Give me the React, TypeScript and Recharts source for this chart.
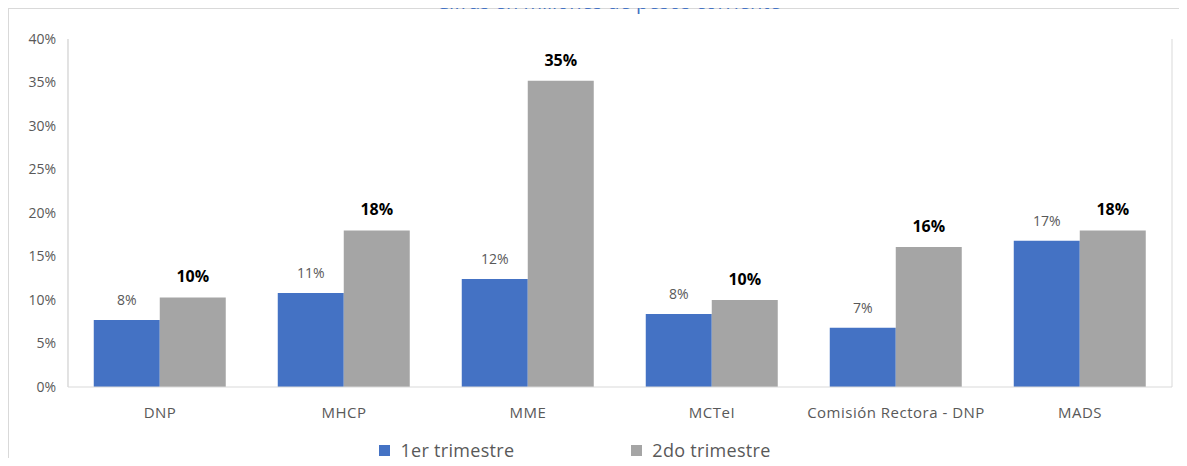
import React from "react";
import { BarChart, Bar, XAxis, YAxis, CartesianGrid, LabelList, Legend } from "recharts";

const categories = ["DNP", "MHCP", "MME", "MCTeI", "Comisión Rectora - DNP", "MADS"];
const trimestre1 = [0.077, 0.108, 0.124, 0.084, 0.068, 0.168];
const trimestre2 = [0.103, 0.18, 0.352, 0.1, 0.161, 0.18];
const yTicks = [0, 0.05, 0.1, 0.15, 0.2, 0.25, 0.3, 0.35, 0.4];
const seriesNames = ["1er trimestre", "2do trimestre"];
const title = "Cifras en millones de pesos corriente";

const data = categories.map((c, i) => ({ name: c, idx: i + 0.5, t1: trimestre1[i], t2: trimestre2[i] }));
const gridTicks = categories.map((_, i) => i).concat([categories.length]);

const FONT = "'Open Sans', sans-serif";
const pct = (v: any) => `${Math.round(Number(v) * 100)}%`;

const LegendContent = () => (
  <div style={{ display: "flex", justifyContent: "center", alignItems: "center", height: 24, lineHeight: "24px", fontFamily: FONT, fontSize: 18, letterSpacing: 0.3, color: "#595959", paddingRight: 30 }}>
    {[{ c: "#4472C4", n: seriesNames[0] }, { c: "#A5A5A5", n: seriesNames[1] }].map((it, i) => (
      <div key={i} style={{ display: "flex", alignItems: "center", marginRight: i === 0 ? 117 : 0 }}>
        <div style={{ width: 11, height: 11, background: it.c, marginRight: 10 }} />
        <span>{it.n}</span>
      </div>
    ))}
  </div>
);

export default function App() {
  return (
    <div style={{ position: "relative", width: 1171, height: 450, boxSizing: "border-box", borderTop: "1px solid #D9D9D9", borderLeft: "1px solid #D9D9D9" }}>
      <div style={{ position: "absolute", top: -1, left: -1 }}>
        <BarChart
          width={1171}
          height={458}
          data={data}
          margin={{ top: 31, right: 7, left: 0, bottom: 4 }}
          barCategoryGap="14%"
          barGap={0}
        >
          <CartesianGrid xAxisId="a" vertical horizontal={false} stroke="#D9D9D9" />
          <XAxis
            xAxisId="b"
            dataKey="name"
            axisLine={false}
            tickLine={false}
            height={45}
            tick={{ fill: "#595959", fontSize: 15, fontFamily: FONT, letterSpacing: 0.5 }}
            tickMargin={8}
            interval={0}
          />
          <XAxis
            xAxisId="a"
            type="number"
            dataKey="idx"
            domain={[0, categories.length]}
            ticks={gridTicks}
            tick={false}
            tickSize={6}
            tickLine={{ stroke: "#D9D9D9" }}
            axisLine={{ stroke: "#D9D9D9" }}
            height={6}
          />
          <YAxis
            domain={[0, 0.4]}
            ticks={yTicks}
            tickFormatter={pct}
            width={60}
            axisLine={{ stroke: "#D9D9D9" }}
            tickLine={false}
            tick={{ fill: "#595959", fontSize: 14, fontFamily: FONT }}
            tickMargin={6}
          />
          <Legend verticalAlign="bottom" height={24} content={<LegendContent />} />
          <Bar xAxisId="b" dataKey="t1" name={seriesNames[0]} fill="#4472C4" isAnimationActive={false}>
            <LabelList dataKey="t1" position="top" offset={15} formatter={pct} fill="#595959" fontSize={14} fontFamily={FONT} />
          </Bar>
          <Bar xAxisId="b" dataKey="t2" name={seriesNames[1]} fill="#A5A5A5" isAnimationActive={false}>
            <LabelList dataKey="t2" position="top" offset={15} formatter={pct} fill="#000000" fontSize={16} fontWeight="bold" fontFamily={FONT} />
          </Bar>
        </BarChart>
      </div>
      <div style={{ position: "absolute", top: -18, left: 14, width: 1171, textAlign: "center", fontFamily: FONT, fontSize: 20, color: "#4472C4", lineHeight: "22px", zIndex: 5 }}>
        {title}
      </div>
    </div>
  );
}
